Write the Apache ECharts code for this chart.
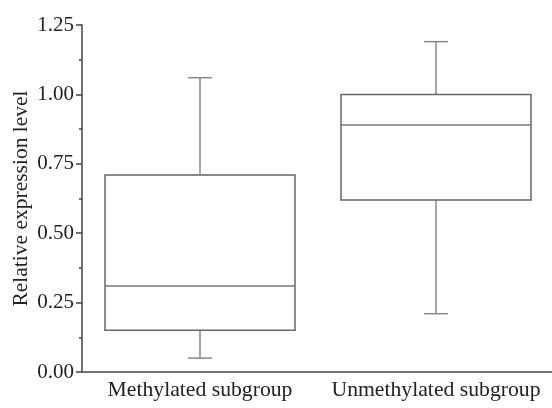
<!DOCTYPE html>
<html><head><meta charset="utf-8">
<script src="https://cdn.jsdelivr.net/npm/echarts@6/dist/echarts.min.js"></script>
<style>html,body{margin:0;padding:0;background:#fff}#c{width:552px;height:408px}</style>
</head><body><div id="c"></div>
<script>
const categories = ['Methylated subgroup', 'Unmethylated subgroup'];
const minVals = [0.05, 0.21];
const q1Vals = [0.15, 0.62];
const medianVals = [0.31, 0.89];
const q3Vals = [0.71, 1.00];
const maxVals = [1.06, 1.19];
const yMin = 0, yMax = 1.25, yStep = 0.25;

const data = categories.map((c, i) => [i, minVals[i], q1Vals[i], medianVals[i], q3Vals[i], maxVals[i]]);
const FONT = '"Liberation Serif", "Times New Roman", serif';

const chart = echarts.init(document.getElementById('c'));
chart.setOption({
  animation: false,
  grid: { left: 82, right: -2, top: 25, bottom: 36, containLabel: false, outerBoundsMode: 'none' },
  xAxis: {
    type: 'category', data: categories, boundaryGap: true,
    axisLine: { lineStyle: { color: '#444', width: 1.5 } },
    axisTick: { alignWithLabel: true, interval: 0, length: 5, lineStyle: { color: '#444', width: 1.5 } },
    axisLabel: { interval: 0, hideOverlap: false, color: '#222', fontFamily: FONT, fontSize: 21.7, margin: 7 },
    splitLine: { show: false }
  },
  yAxis: {
    type: 'value', min: yMin, max: yMax, interval: yStep,
    name: 'Relative expression level', nameLocation: 'middle', nameGap: 50, nameRotate: 90,
    nameMoveOverlap: false,
    nameTextStyle: { color: '#222', fontFamily: FONT, fontSize: 21.5 },
    axisLine: { show: true, lineStyle: { color: '#444', width: 1.5 } },
    axisTick: { show: true, length: 6, lineStyle: { color: '#444', width: 1.5 } },
    minorTick: { show: true, splitNumber: 2, length: 3, lineStyle: { color: '#444', width: 1.5 } },
    axisLabel: { color: '#222', fontFamily: FONT, fontSize: 21, margin: 8,
      formatter: v => v.toFixed(2) },
    splitLine: { show: false }
  },
  series: [{
    type: 'custom',
    data: data,
    encode: { x: 0, y: [1, 2, 3, 4, 5] },
    renderItem: function (params, api) {
      const idx = api.value(0);
      const pMin = api.coord([idx, api.value(1)]);
      const pQ1 = api.coord([idx, api.value(2)]);
      const pMed = api.coord([idx, api.value(3)]);
      const pQ3 = api.coord([idx, api.value(4)]);
      const pMax = api.coord([idx, api.value(5)]);
      const bw = api.size([1, 0])[0] * 0.805;
      const cw = 24;
      const cx = pMed[0];
      const whiskStyle = { stroke: '#888', lineWidth: 1.5 };
      return {
        type: 'group',
        children: [
          { type: 'line', shape: { x1: cx, y1: pQ1[1], x2: cx, y2: pMin[1] }, style: whiskStyle },
          { type: 'line', shape: { x1: cx, y1: pQ3[1], x2: cx, y2: pMax[1] }, style: whiskStyle },
          { type: 'line', shape: { x1: cx - cw / 2, y1: pMin[1], x2: cx + cw / 2, y2: pMin[1] }, style: whiskStyle },
          { type: 'line', shape: { x1: cx - cw / 2, y1: pMax[1], x2: cx + cw / 2, y2: pMax[1] }, style: whiskStyle },
          { type: 'rect', shape: { x: cx - bw / 2, y: pQ3[1], width: bw, height: pQ1[1] - pQ3[1] }, style: { stroke: '#666', lineWidth: 1.5, fill: '#fff' } },
          { type: 'line', shape: { x1: cx - bw / 2, y1: pMed[1], x2: cx + bw / 2, y2: pMed[1] }, style: { stroke: '#777', lineWidth: 1.5 } }
        ]
      };
    }
  }]
});
</script></body></html>
